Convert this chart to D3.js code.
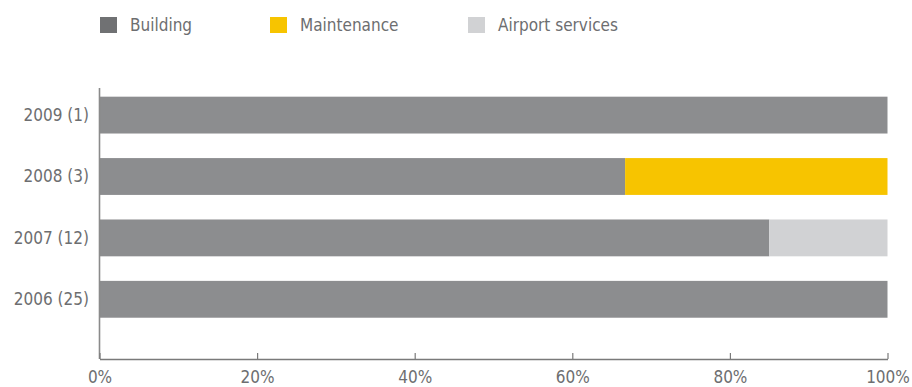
<!DOCTYPE html>
<html>
<head>
<meta charset="utf-8">
<script src="https://cdn.jsdelivr.net/npm/d3@7"></script>
<style>
  html, body { margin: 0; padding: 0; background: #fff; }
  svg text { font-family: "DejaVu Sans Condensed", "DejaVu Sans", Verdana, sans-serif; }
</style>
</head>
<body>
<svg id="chart" width="912" height="387"></svg>
<script>
// Years (with number of cases) from top to bottom
const categories = ["2009 (1)", "2008 (3)", "2007 (12)", "2006 (25)"];
// Share of each activity per year, in percent
const building    = [100, 66.7, 85, 100];
const maintenance = [0, 33.3, 0, 0];
const airport     = [0, 0, 15, 0];
const seriesNames = ["Building", "Maintenance", "Airport services"];
const tickValues  = [0, 20, 40, 60, 80, 100];

const colors = { "Building": "#8c8d8f", "Maintenance": "#f7c400", "Airport services": "#d1d2d4" };
const legendColors = { "Building": "#707173", "Maintenance": "#f7c400", "Airport services": "#d1d2d4" };

const svg = d3.select("#chart");
const x0 = 99.5, x1 = 887.5, axisTop = 88, axisBottom = 359;
const fontSize = 17;

const x = d3.scaleLinear().domain([0, 100]).range([x0, x1]);
const y = d3.scaleBand().domain(categories).range([84.4, 330]).paddingInner(0.4).paddingOuter(0.2);

const rows = categories.map((c, i) => ({
  cat: c, "Building": building[i], "Maintenance": maintenance[i], "Airport services": airport[i]
}));
const stacked = d3.stack().keys(seriesNames)(rows);

svg.append("g").selectAll("g")
  .data(stacked).join("g")
  .attr("fill", d => colors[d.key])
  .selectAll("rect")
  .data(d => d.filter(p => p[1] - p[0] > 0))
  .join("rect")
  .attr("x", d => x(d[0]))
  .attr("width", d => x(d[1]) - x(d[0]))
  .attr("y", d => y(d.data.cat))
  .attr("height", y.bandwidth());

// Vertical axis line with category labels
svg.append("line")
  .attr("x1", x0).attr("x2", x0).attr("y1", axisTop).attr("y2", axisBottom)
  .attr("stroke", "#8a8a8a").attr("stroke-width", 1.6);

svg.append("g").selectAll("text")
  .data(categories).join("text")
  .attr("x", 89)
  .attr("y", d => y(d) + y.bandwidth() / 2)
  .attr("dy", "0.35em")
  .attr("text-anchor", "end")
  .attr("fill", "#6d6e70")
  .attr("font-size", fontSize)
  .text(d => d);

// Horizontal axis with inward ticks
const xAxis = d3.axisBottom(x)
  .tickValues(tickValues)
  .tickFormat(d => d + "%")
  .tickSizeInner(-6)
  .tickSizeOuter(0)
  .tickPadding(12);

const gx = svg.append("g").attr("transform", `translate(0,${axisBottom})`).call(xAxis);
gx.select(".domain").attr("stroke", "#7a7a7a").attr("stroke-width", 1.4);
gx.selectAll(".tick line").attr("stroke", "#7a7a7a").attr("stroke-width", 1.2);
gx.selectAll(".tick text").attr("fill", "#6d6e70").attr("font-size", fontSize)
  .style("font-family", '"DejaVu Sans Condensed", "DejaVu Sans", sans-serif');

// Legend
const legendX = [100, 270, 468];
const legend = svg.append("g").selectAll("g")
  .data(seriesNames).join("g")
  .attr("transform", (d, i) => `translate(${legendX[i]},17)`);
legend.append("rect").attr("width", 17).attr("height", 16).attr("fill", d => legendColors[d]);
legend.append("text").attr("x", 30).attr("y", 8).attr("dy", "0.35em")
  .attr("fill", "#6d6e70").attr("font-size", fontSize).text(d => d);
</script>
</body>
</html>
